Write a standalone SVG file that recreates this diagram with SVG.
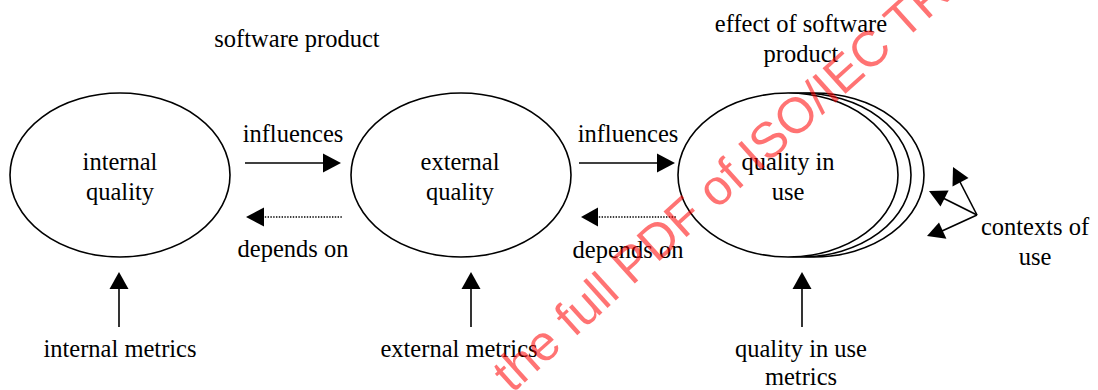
<svg xmlns="http://www.w3.org/2000/svg" width="1098" height="390" viewBox="0 0 1098 390">
  <style>
    .t { font-family: "Liberation Serif", "Times New Roman", serif; font-size: 24.5px; fill: #000; text-anchor: middle; }
    .el { fill: #fff; stroke: #000; stroke-width: 1.6; }
    .ln { stroke: #000; stroke-width: 1.6; fill: none; }
    .dot { stroke: #000; stroke-width: 1.6; fill: none; stroke-dasharray: 1.4 1.4; }
    .hd { fill: #000; stroke: none; }
    .wm { font-family: "Liberation Sans", Arial, sans-serif; font-size: 50px; fill: #ff0000; fill-opacity: 0.55; }
  </style>

  <g id="labels-top">
    <text class="t" x="297" y="47">software product</text>
    <text class="t" x="801" y="32">effect of software</text>
    <text class="t" x="801" y="62">product</text>
  </g>

  <g id="node-internal-quality">
    <ellipse class="el" cx="120" cy="175" rx="110" ry="82"/>
    <text class="t" x="120" y="170">internal</text>
    <text class="t" x="120" y="200">quality</text>
  </g>

  <g id="node-external-quality">
    <ellipse class="el" cx="461" cy="175" rx="110" ry="82"/>
    <text class="t" x="460" y="170">external</text>
    <text class="t" x="460" y="200">quality</text>
  </g>

  <g id="node-quality-in-use">
    <ellipse class="el" cx="814" cy="175" rx="110" ry="82"/>
    <ellipse class="el" cx="801" cy="175" rx="110" ry="82"/>
    <ellipse class="el" cx="788" cy="175" rx="110" ry="82"/>
    <text class="t" x="788" y="170">quality in</text>
    <text class="t" x="788" y="200">use</text>
  </g>

  <g id="node-internal-metrics">
    <text class="t" x="120" y="357">internal metrics</text>
  </g>
  <g id="node-external-metrics">
    <text class="t" x="459" y="357">external metrics</text>
  </g>
  <g id="node-quality-in-use-metrics">
    <text class="t" x="801" y="357">quality in use</text>
    <text class="t" x="801" y="385">metrics</text>
  </g>
  <g id="node-contexts-of-use">
    <text class="t" x="1035" y="235">contexts of</text>
    <text class="t" x="1035" y="265">use</text>
  </g>

  <g id="connectors">
    <line class="ln" x1="245" y1="163" x2="326" y2="163"/>
    <polygon class="hd" points="341,163 323,153.5 323,172.5"/>
    <text class="t" x="293" y="142">influences</text>
    <line class="dot" x1="262" y1="217" x2="342" y2="217"/>
    <polygon class="hd" points="246,217 264,207.5 264,226.5"/>
    <text class="t" x="293" y="257">depends on</text>
    <line class="ln" x1="579" y1="163" x2="660" y2="163"/>
    <polygon class="hd" points="675,163 657,153.5 657,172.5"/>
    <text class="t" x="628" y="142">influences</text>
    <line class="dot" x1="596" y1="217" x2="676" y2="217"/>
    <polygon class="hd" points="581,217 598,207.5 598,226.5"/>
    <text class="t" x="628" y="258">depends on</text>
    <line class="ln" x1="119" y1="327" x2="119" y2="286"/>
    <polygon class="hd" points="119,272 109.5,289 128.5,289"/>
    <line class="ln" x1="471" y1="327" x2="471" y2="286"/>
    <polygon class="hd" points="471,272 461.5,289 480.5,289"/>
    <line class="ln" x1="802" y1="327" x2="802" y2="286"/>
    <polygon class="hd" points="802,272 792.5,289 811.5,289"/>
    <line class="ln" x1="977" y1="215" x2="960" y2="182"/>
    <polygon class="hd" points="953,167 952.5,186.4 968.5,178"/>
    <line class="ln" x1="977" y1="215" x2="943" y2="198"/>
    <polygon class="hd" points="929,191 940.5,206.5 948.6,190.4"/>
    <line class="ln" x1="977" y1="215" x2="942" y2="231"/>
    <polygon class="hd" points="927,236 946.4,238.8 939,222.4"/>
  </g>

  <g id="watermark">
    <text class="wm" transform="translate(512,394) rotate(-42)">the full PDF of ISO/IEC TR</text>
  </g>
</svg>
